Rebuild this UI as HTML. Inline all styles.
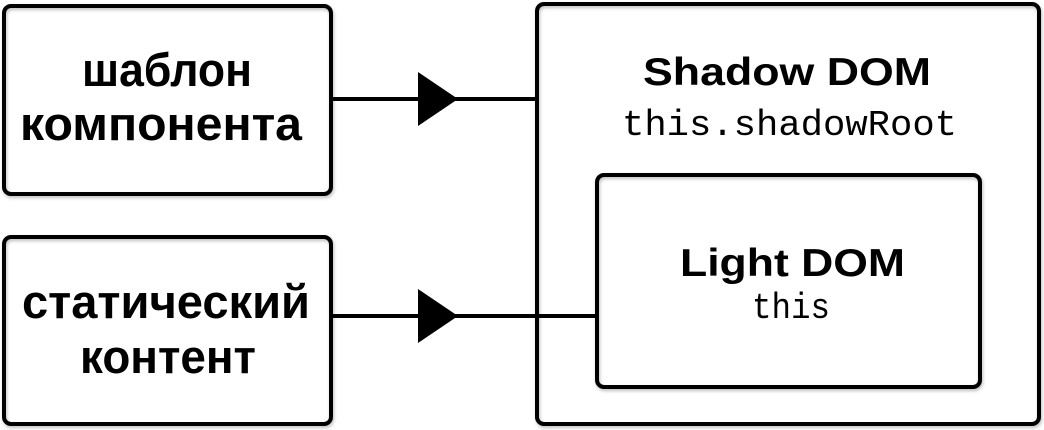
<!DOCTYPE html>
<html><head><style>
html,body{margin:0;padding:0;background:#fff;}
svg{display:block;}
.b{font-family:"Liberation Sans",sans-serif;font-weight:bold;font-size:47px;fill:#000;}
.h{font-family:"Liberation Sans",sans-serif;font-weight:bold;font-size:39px;fill:#000;}
.m{font-family:"Liberation Mono",monospace;font-size:36px;fill:#000;}
</style></head><body>
<svg width="1044" height="430" viewBox="0 0 1044 430" xmlns="http://www.w3.org/2000/svg">
<defs><filter id="s" x="-5%" y="-5%" width="110%" height="110%"><feDropShadow dx="1" dy="2" stdDeviation="1.5" flood-opacity="0.25"/></filter></defs>
<g fill="none" stroke="#000" stroke-width="4" filter="url(#s)">
<rect x="4" y="6" width="327" height="188" rx="7"/>
<rect x="4" y="237" width="327" height="187" rx="7"/>
<rect x="537" y="4" width="502" height="420" rx="7"/>
<rect x="597" y="175" width="383" height="212" rx="7"/>
</g>
<g stroke="#000" stroke-width="4">
<line x1="331" y1="99" x2="537" y2="99"/>
<line x1="331" y1="316" x2="597" y2="316"/>
</g>
<polygon points="418,72 458,99 418,126" fill="#000"/>
<polygon points="418,289 458,316 418,343" fill="#000"/>
<text class="b" x="82" y="86" textLength="170" lengthAdjust="spacingAndGlyphs">шаблон</text>
<text class="b" x="20" y="140" textLength="282" lengthAdjust="spacingAndGlyphs">компонента</text>
<text class="b" x="22" y="318" textLength="288" lengthAdjust="spacingAndGlyphs">статический</text>
<text class="b" x="80" y="373" textLength="176" lengthAdjust="spacingAndGlyphs">контент</text>
<text class="h" x="643" y="85" textLength="288" lengthAdjust="spacingAndGlyphs">Shadow DOM</text>
<text class="m" x="622" y="135" textLength="335" lengthAdjust="spacingAndGlyphs">this.shadowRoot</text>
<text class="h" x="680" y="276" textLength="225" lengthAdjust="spacingAndGlyphs">Light DOM</text>
<text class="m" x="752" y="318" textLength="78" lengthAdjust="spacingAndGlyphs">this</text>
</svg>
</body></html>
